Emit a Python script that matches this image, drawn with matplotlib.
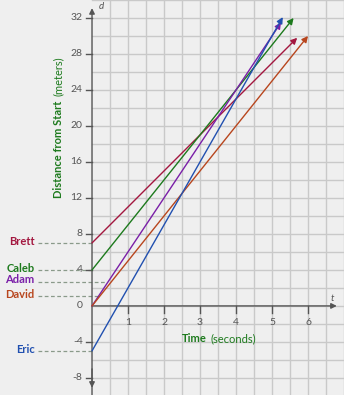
import numpy as np
import matplotlib.pyplot as plt

plt.rcParams['font.family'] = ['Lato', 'DejaVu Sans']

names = ["Brett", "Caleb", "Adam", "David", "Eric"]
colors = ["#a3173f", "#1d7a1d", "#7a1fa8", "#b8461e", "#2150b0"]
d_start = [7, 4, 0, 0, -5]
t_end = [5.7, 5.6, 5.25, 6.0, 5.3]
d_end = [29.8, 32, 31.5, 30, 32.1]
# where each name's dashed pointer sits on the d axis, and where it stops
label_d = [7, 4, 2.7, 1.1, -5]
pointer_t = [0, 0, 0.42, 0.22, 0]

x_ticks = [1, 2, 3, 4, 5, 6]
y_ticks = [-8, -4, 0, 4, 8, 12, 16, 20, 24, 28, 32]

bg = "#efefef"
gridc = "#c9c9c9"
axc = "#555555"
fs = 7.5

fig = plt.figure(figsize=(3.44, 3.95), dpi=100, facecolor=bg)
ax = fig.add_axes([0, 0, 1, 1])
ax.set_facecolor(bg)
ax.set_xlim(-2.556, 7.0)
ax.set_ylim(-9.9, 34.0)
ax.axis("off")

# grid only on the right of the d axis
for gx in np.arange(0.5, 7.01, 0.5):
    ax.plot([gx, gx], [-9.9, 34], color=gridc, lw=1.0, zorder=1)
for gy in np.arange(-8, 34.1, 2):
    ax.plot([0, 7], [gy, gy], color=gridc, lw=1.0, zorder=1)

# axes with arrows
arr = dict(arrowstyle="-|>", color=axc, lw=1.0, mutation_scale=8, shrinkA=0, shrinkB=0)
ax.annotate("", xy=(6.8, 0), xytext=(0, 0), arrowprops=arr, zorder=3)
ax.annotate("", xy=(0, 33.1), xytext=(0, -9.9), arrowprops=arr, zorder=3)
ax.annotate("", xy=(0, -9.1), xytext=(0, -7), arrowprops=arr, zorder=3)
ax.text(0.2, 32.8, "d", style="italic", color=axc, fontsize=7, ha="left", va="bottom")
ax.text(6.62, 0.35, "t", style="italic", color=axc, fontsize=7, ha="left", va="bottom")

for tx in x_ticks:
    ax.plot([tx, tx], [0, -0.75], color=axc, lw=1.0, zorder=3)
    ax.text(tx, -1.3, str(tx), ha="center", va="top", color=axc, fontsize=fs)
for ty in y_ticks:
    if ty != 0:
        ax.plot([-0.17, 0], [ty, ty], color=axc, lw=1.0, zorder=3)
    ax.text(-0.26, ty, str(ty), ha="right", va="center", color=axc, fontsize=fs)

# runners
for i in range(len(names)):
    ax.annotate("", xy=(t_end[i], d_end[i]), xytext=(0, d_start[i]),
                arrowprops=dict(arrowstyle="-|>", color=colors[i], lw=1.0,
                                mutation_scale=9, shrinkA=0, shrinkB=0), zorder=4)
    ax.plot([-1.5, pointer_t[i]], [label_d[i], label_d[i]], ls=(0, (3, 2)),
            color="#8a9a8a", lw=0.9, zorder=2)
    ax.text(-1.6, label_d[i] + 0.2, names[i], ha="right", va="center",
            color=colors[i], fontsize=8, fontweight="bold")

green = "#1d7a1d"
ax.text(-0.94, 12.0, "Distance from Start", rotation=90, color=green, fontsize=8,
        fontweight="bold", ha="center", va="bottom")
ax.text(-0.94, 23.3, "(meters)", rotation=90, color=green, fontsize=8,
        ha="center", va="bottom")
ax.text(2.5, -3.6, "Time", color=green, fontsize=8, fontweight="bold",
        ha="left", va="center")
ax.text(3.28, -3.6, "(seconds)", color=green, fontsize=8, ha="left", va="center")

fig.savefig("out.png", dpi=100, facecolor=bg)
